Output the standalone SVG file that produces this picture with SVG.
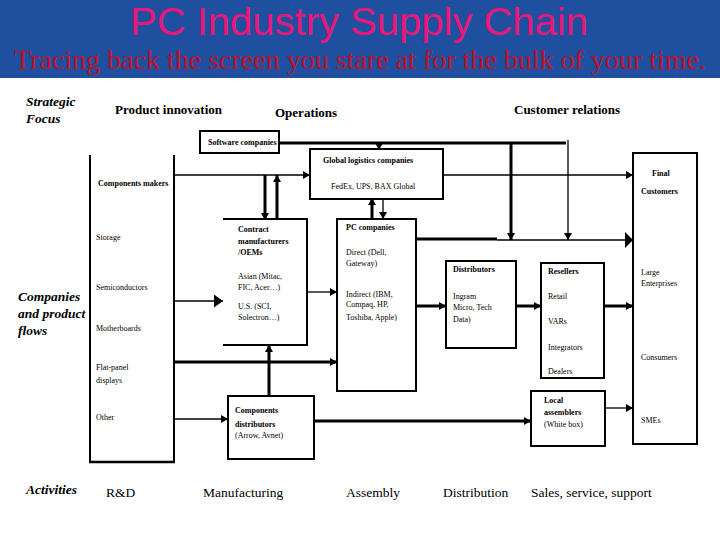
<svg xmlns="http://www.w3.org/2000/svg" width="720" height="540" viewBox="0 0 720 540">
<style>
.box{fill:#fff;stroke:#000;stroke-width:2}
.open{fill:none;stroke:#000;stroke-width:2}
.thin{fill:none;stroke:#000;stroke-width:1.3}
.thick{fill:none;stroke:#000;stroke-width:3}
.title{font-family:"Liberation Sans",Arial,sans-serif;font-size:38px;fill:#e8177a}
.sub{font-family:"Liberation Serif","Times New Roman",serif;font-size:28px;fill:#c0102a}
.t{font-family:"Liberation Serif","Times New Roman",serif;font-size:8px;fill:#000}
.tb{font-family:"Liberation Serif","Times New Roman",serif;font-size:8px;font-weight:bold;fill:#000}
.h{font-family:"Liberation Serif","Times New Roman",serif;font-size:13px;font-weight:bold;fill:#000}
.hi{font-family:"Liberation Serif","Times New Roman",serif;font-size:13.5px;font-weight:bold;font-style:italic;fill:#000}
.act{font-family:"Liberation Serif","Times New Roman",serif;font-size:13.5px;fill:#000}
</style>
<defs>
<marker id="ah" markerUnits="userSpaceOnUse" markerWidth="8" markerHeight="8" refX="7" refY="4" orient="auto"><path d="M0,0 L7,4 L0,8 z" fill="#000"/></marker>
<marker id="ahBig" markerUnits="userSpaceOnUse" markerWidth="10" markerHeight="13" refX="9" refY="6.5" orient="auto"><path d="M0,0 L9,6.5 L0,13 z" fill="#000"/></marker>
<marker id="ahHuge" markerUnits="userSpaceOnUse" markerWidth="9" markerHeight="16" refX="8" refY="8" orient="auto"><path d="M0,0 L8,8 L0,16 z" fill="#000"/></marker>
</defs>
<rect width="720" height="540" fill="#fff"/>
<g id="banner">
<rect x="0" y="0" width="720" height="78" fill="#1f4f9f"/>
<text class="title" x="359" y="35" text-anchor="middle" textLength="458" lengthAdjust="spacingAndGlyphs">PC Industry Supply Chain</text>
<text class="sub" x="14" y="69" textLength="692" lengthAdjust="spacingAndGlyphs">Tracing back the screen you stare at for the bulk of your time.</text>
</g>
<g id="headings">
<text class="hi" x="26" y="106">Strategic</text>
<text class="hi" x="26" y="123">Focus</text>
<text class="h" x="115" y="114">Product innovation</text>
<text class="h" x="275" y="117">Operations</text>
<text class="h" x="514" y="114">Customer relations</text>
<text class="hi" x="18" y="301">Companies</text>
<text class="hi" x="18" y="318">and product</text>
<text class="hi" x="18" y="335">flows</text>
<text class="hi" x="26" y="494" font-weight="normal">Activities</text>
<text class="act" x="106" y="497">R&amp;D</text>
<text class="act" x="203" y="497">Manufacturing</text>
<text class="act" x="346" y="497">Assembly</text>
<text class="act" x="443" y="497">Distribution</text>
<text class="act" x="531" y="497">Sales, service, support</text>
</g>
<g id="connectors">
<path class="thick" d="M279,143 H566"/>
<path class="thin" d="M379,143 V150" marker-end="url(#ah)"/>
<path class="thick" d="M511,143 V240" marker-end="url(#ah)"/>
<path class="thin" d="M568,140 V240" marker-end="url(#ah)"/>
<path class="thin" d="M174,175 H310" marker-end="url(#ah)"/>
<path class="thick" d="M265,175 V220" marker-end="url(#ah)"/>
<path class="thick" d="M277,219 V175" marker-end="url(#ah)"/>
<path class="thin" d="M443,175 H633" marker-end="url(#ah)"/>
<path class="thick" d="M372,219 V198" marker-end="url(#ah)"/>
<path class="thin" d="M383,195 V219" marker-end="url(#ah)"/>
<path class="thin" d="M174,301 H223" marker-end="url(#ahBig)"/>
<path class="thick" d="M174,362 H337" marker-end="url(#ah)"/>
<path class="thin" d="M174,419 H228" marker-end="url(#ah)"/>
<path class="thick" d="M269,396 V345" marker-end="url(#ah)"/>
<path class="thick" d="M314,421 H531" marker-end="url(#ah)"/>
<path class="thin" d="M307,292 H337" marker-end="url(#ah)"/>
<path class="thick" d="M416,239 H497"/>
<path class="thin" d="M497,240 H633" marker-end="url(#ahHuge)"/>
<path class="thick" d="M416,306 H446" marker-end="url(#ah)"/>
<path class="thick" d="M516,306 H541" marker-end="url(#ah)"/>
<path class="thick" d="M604,306 H633" marker-end="url(#ah)"/>
<path class="thin" d="M605,408 H633" stroke-width="1.6" marker-end="url(#ah)"/>
</g>
<g id="components-makers">
<path class="open" d="M90,155 V462 H174 V155" stroke-width="1.6"/>
<path d="M89,462 H175" stroke="#000" stroke-width="2.5"/>
<text class="tb" x="98" y="186">Components makers</text>
<text class="t" x="96" y="240">Storage</text>
<text class="t" x="96" y="290">Semiconductors</text>
<text class="t" x="96" y="331">Motherboards</text>
<text class="t" x="96" y="370">Flat-panel</text>
<text class="t" x="96" y="383">displays</text>
<text class="t" x="96" y="420">Other</text>
</g>
<g id="software-companies">
<rect class="box" x="200" y="131" width="79" height="22"/>
<text class="tb" x="208" y="145">Software companies</text>
</g>
<g id="global-logistics">
<rect class="box" x="310" y="149" width="133" height="50"/>
<text class="tb" x="323" y="163">Global logistics companies</text>
<text class="t" x="331" y="189">FedEx, UPS, BAX Global</text>
</g>
<g id="contract-manufacturers">
<path class="open" d="M223,219 H307 V345 H223"/>
<text class="tb" x="238" y="232">Contract</text>
<text class="tb" x="238" y="244">manufacturers</text>
<text class="tb" x="238" y="255">/OEMs</text>
<text class="t" x="238" y="279">Asian (Mitac,</text>
<text class="t" x="238" y="290">FIC, Acer…)</text>
<text class="t" x="238" y="309">U.S. (SCI,</text>
<text class="t" x="238" y="320">Solectron…)</text>
</g>
<g id="pc-companies">
<rect class="box" x="337" y="219" width="79" height="172"/>
<text class="tb" x="346" y="230">PC companies</text>
<text class="t" x="346" y="255">Direct (Dell,</text>
<text class="t" x="346" y="266" font-size="6.5">Gateway)</text>
<text class="t" x="346" y="297">Indirect (IBM,</text>
<text class="t" x="346" y="307">Compaq, HP,</text>
<text class="t" x="346" y="320">Toshiba, Apple)</text>
</g>
<g id="components-distributors">
<rect class="box" x="228" y="396" width="86" height="63"/>
<text class="tb" x="235" y="413">Components</text>
<text class="tb" x="235" y="427">distributors</text>
<text class="t" x="235" y="438">(Arrow, Avnet)</text>
</g>
<g id="distributors">
<rect class="box" x="446" y="261" width="70" height="87"/>
<text class="tb" x="453" y="272">Distributors</text>
<text class="t" x="453" y="299">Ingram</text>
<text class="t" x="453" y="310">Micro, Tech</text>
<text class="t" x="453" y="322">Data)</text>
</g>
<g id="resellers">
<rect class="box" x="541" y="263" width="63" height="115" stroke-width="1.4"/>
<text class="tb" x="548" y="274">Resellers</text>
<text class="t" x="548" y="299">Retail</text>
<text class="t" x="548" y="324">VARs</text>
<text class="t" x="548" y="350">Integrators</text>
<text class="t" x="548" y="374">Dealers</text>
</g>
<g id="local-assemblers">
<rect class="box" x="531" y="391" width="74" height="55"/>
<text class="tb" x="544" y="403">Local</text>
<text class="tb" x="544" y="415">assemblers</text>
<text class="t" x="544" y="427">(White box)</text>
</g>
<g id="final-customers">
<rect class="box" x="633" y="153" width="64" height="291"/>
<text class="tb" x="652" y="176">Final</text>
<text class="tb" x="641" y="194">Customers</text>
<text class="t" x="641" y="275">Large</text>
<text class="t" x="641" y="286">Enterprises</text>
<text class="t" x="641" y="360">Consumers</text>
<text class="t" x="641" y="423">SMEs</text>
</g>
</svg>
